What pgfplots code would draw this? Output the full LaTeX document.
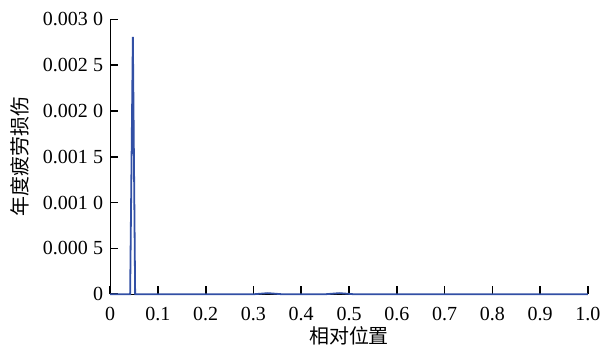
\documentclass[border={2pt 0pt 3pt 3pt}]{standalone}
\usepackage{fontspec}
\setmainfont{Liberation Serif}
\newfontfamily\cjk{Noto Sans CJK SC}
\usepackage{pgfplots}
\pgfplotsset{compat=1.18}
\definecolor{lineblue}{RGB}{50,80,165}
\newcommand{\gs}{\hspace{2.6pt}}
\begin{document}
\begin{tikzpicture}
\fontsize{10pt}{12pt}\selectfont
\begin{axis}[
  scale only axis,
  width=239pt, height=137.5pt,
  xmin=0, xmax=1, ymin=0, ymax=0.003,
  axis x line*=bottom, axis y line*=left,
  axis line style={line width=0.6pt},
  tick align=inside,
  major tick length=4pt,
  xtick style={draw=black, line width=0.8pt},
  ytick style={draw=black, line width=0.8pt},
  xtick={0,0.1,...,1.0},
  xticklabels={0,0.1,0.2,0.3,0.4,0.5,0.6,0.7,0.8,0.9,1.0},
  ytick={0,0.0005,0.001,0.0015,0.002,0.0025,0.003},
  yticklabels={0,{0.000\gs5},{0.001\gs0},{0.001\gs5},{0.002\gs0},{0.002\gs5},{0.003\gs0}},
  scaled y ticks=false,
  tick label style={font=\fontsize{10pt}{12pt}\selectfont},
  xticklabel style={yshift=-3pt},
  xlabel={\cjk\fontsize{10pt}{12pt}\selectfont 相对位置},
  ylabel={\cjk\fontsize{10pt}{12pt}\selectfont 年度疲劳损伤},
  xlabel style={yshift=4pt},
  ylabel style={yshift=0pt},
  clip=false,
]
\addplot[lineblue, line width=0.9pt] coordinates {
(0,0) (0.040,0) (0.0418,0) (0.0475,0.00281) (0.0523,0) (0.30,0)
(0.33,0.000012) (0.36,0) (0.45,0) (0.48,0.000012) (0.51,0) (1.0,0)
};
\end{axis}
\end{tikzpicture}
\end{document}
